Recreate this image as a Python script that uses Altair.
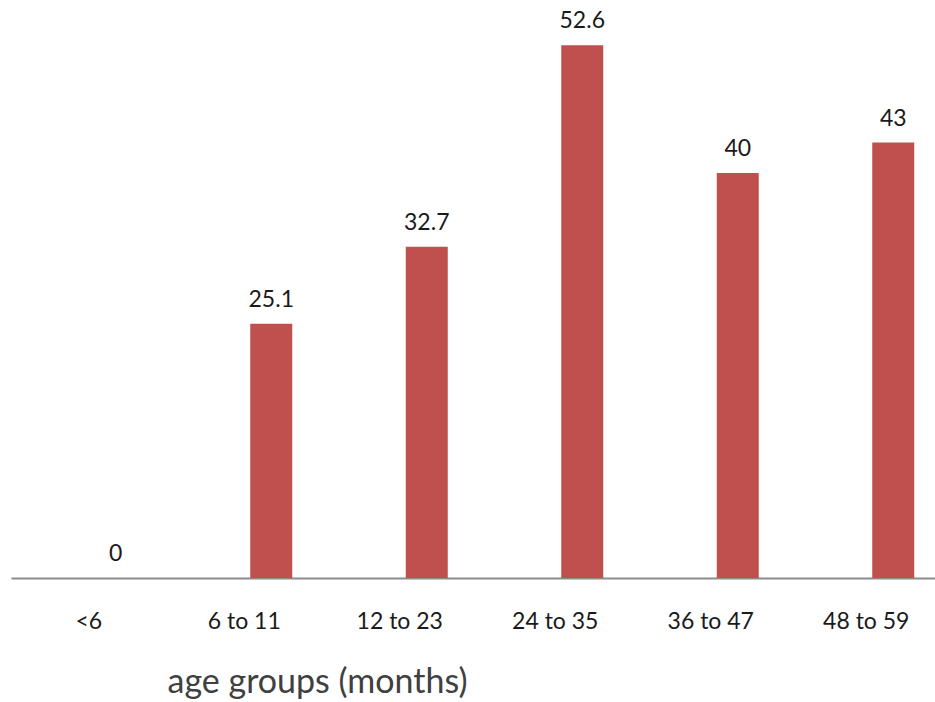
import altair as alt
import pandas as pd

# Prevalence by age group (months)
age_groups = ["<6", "6 to 11", "12 to 23", "24 to 35", "36 to 47", "48 to 59"]
values = [0, 25.1, 32.7, 52.6, 40, 43]

df = pd.DataFrame({"group": age_groups, "value": values})

FONT = "Lato"
BAR_COLOR = "#C0504D"

x_enc = alt.X(
    "group:N",
    sort=age_groups,
    scale=alt.Scale(range=[0, 933], paddingInner=0, paddingOuter=0),
    axis=alt.Axis(
        title="age groups (months)",
        titleFont=FONT,
        titleFontSize=34,
        titleFontWeight="normal",
        titleColor="#404040",
        titleX=156,
        titleY=114,
        titleAlign="left",
        titleBaseline="alphabetic",
        labelFont=FONT,
        labelFontSize=23,
        labelColor="#1a1a1a",
        labelAngle=0,
        labelBaseline="alphabetic",
        labelPadding=50,
        ticks=False,
        tickSize=0,
        domainColor="#8c8c8c",
        domainWidth=2,
        grid=False,
    ),
)

y_enc = alt.Y(
    "value:Q",
    scale=alt.Scale(domain=[0, 55], nice=False, zero=True),
    axis=None,
)

bars = alt.Chart(df).mark_bar(color=BAR_COLOR, size=42, xOffset=27).encode(
    x=x_enc, y=y_enc
)

labels = alt.Chart(df).mark_text(
    font=FONT,
    fontSize=23,
    color="#1a1a1a",
    baseline="alphabetic",
    dy=-17,
    xOffset=27,
).encode(
    x=alt.X("group:N", sort=age_groups),
    y=alt.Y("value:Q"),
    text=alt.Text("value:Q"),
)

chart = (
    alt.layer(bars, labels)
    .properties(
        width=924,
        height=557,
        autosize=alt.AutoSizeParams(type="none"),
        padding={"left": 11, "top": 21, "right": 0, "bottom": 124},
        background="white",
    )
    .configure_view(stroke=None)
)

chart.save("out.html", embed_options={"renderer": "svg", "actions": False})
